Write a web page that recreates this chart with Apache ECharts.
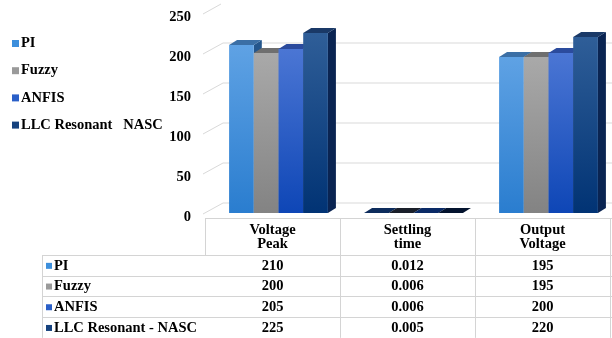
<!DOCTYPE html>
<html><head><meta charset="utf-8">
<script src="https://cdn.jsdelivr.net/npm/echarts@6/dist/echarts.min.js"></script>
<style>html,body{margin:0;padding:0;background:#fff}#c{width:612px;height:338px}</style>
</head><body><div id="c"></div>
<script>
// ---- data ----
var categories = ['Voltage Peak', 'Settling time', 'Output Voltage'];
var seriesNames = ['PI', 'Fuzzy', 'ANFIS', 'LLC Resonant - NASC'];
var piValues = [210, 0.012, 195];
var fuzzyValues = [200, 0.006, 195];
var anfisValues = [205, 0.006, 200];
var llcValues = [225, 0.005, 220];
var yTicks = [0, 50, 100, 150, 200, 250];

var seriesData = [piValues, fuzzyValues, anfisValues, llcValues];

// ---- styles ----
var FONT = '"Liberation Serif", "Times New Roman", serif';
var FS = 14.5;
var legendColors = ['#3d8fdc', '#9a9a9a', '#2a5fc8', '#16427e'];
var frontC = [['#5fa2e4', '#2a7dcf'], ['#a9a9a9', '#838383'], ['#4b76d4', '#0e46b6'], ['#2f5e98', '#013374']];
var topC = ['#3b6fa5', '#6f6f6f', '#2b4b9d', '#1a3967'];
var flatC = ['#0d2c5c', '#1a1f2a', '#0a2a66', '#03132e'];
var sideC = ['#24568c', '#5a5a5a', '#1d3a88', '#0a2452'];
var DX = 8, DY = -5, SHIFT = 6, BWR = 0.183;

function barRender(si) {
  return function (params, api) {
    var c = api.value(0), v = api.value(1);
    var p0 = api.coord([c, 0]), p1 = api.coord([c, v]);
    var band = api.size([1, 0])[0];
    var bw = band * BWR;
    var x0 = p0[0] - 2 * bw + si * bw + SHIFT, x1 = x0 + bw;
    var yb = p0[1], yt = p1[1];
    var flat = (yb - yt) < 1;
    return {
      type: 'group', children: [
        { type: 'polygon', shape: { points: [[x1, yb], [x1 + DX, yb + DY], [x1 + DX, yt + DY], [x1, yt]] },
          style: { fill: sideC[si] } },
        { type: 'rect', shape: { x: x0, y: yt, width: bw, height: Math.max(yb - yt, 0) },
          style: { fill: new echarts.graphic.LinearGradient(0, 0, 0, 1, [{ offset: 0, color: frontC[si][0] }, { offset: 1, color: frontC[si][1] }]) } },
        { type: 'polygon', shape: { points: [[x0, yt], [x0 + DX, yt + DY], [x1 + DX, yt + DY], [x1, yt]] },
          style: { fill: flat ? flatC[si] : topC[si] } }
      ]
    };
  };
}

var series = [{
  type: 'custom', name: '_grid', silent: true, z: 1,
  data: yTicks.map(function (t) { return [0, t]; }),
  encode: { x: 0, y: 1 },
  renderItem: function (params, api) {
    var cs = params.coordSys;
    var t = api.value(1);
    var y = api.coord([0, t])[1];
    var pts = t >= 250 ? [[cs.x - 2, y + 1], [cs.x + 16, y - 9]] :
      [[cs.x - 2, y + 1], [cs.x + 18, y - 10], [cs.x + cs.width + 4, y - 10]];
    return { type: 'polyline', shape: { points: pts }, style: { stroke: '#d9d9d9', lineWidth: 1, fill: null } };
  }
}];
seriesNames.forEach(function (n, i) {
  series.push({
    type: 'custom', name: n, z: 3,
    renderItem: barRender(i),
    itemStyle: { color: legendColors[i] },
    encode: { x: 0, y: 1 },
    data: seriesData[i].map(function (v, j) { return [j, v]; })
  });
});

var chart = echarts.init(document.getElementById('c'), null, { renderer: 'canvas' });
chart.setOption({
  animation: false,
  backgroundColor: '#fff',
  grid: { left: 205, right: 2, top: 13, bottom: 125 },
  legend: {
    orient: 'vertical', left: 7, top: 31, itemWidth: 7, itemHeight: 7, itemGap: 12.2, icon: 'rect',
    data: seriesNames,
    formatter: function (n) { return n.replace(' - ', '   '); },
    textStyle: { fontFamily: FONT, fontWeight: 'bold', fontSize: FS, color: '#000', padding: [0, 0, 0, -3] }
  },
  xAxis: {
    type: 'category', data: categories,
    axisLine: { show: false }, axisTick: { show: false }, axisLabel: { show: false }, splitLine: { show: false }
  },
  yAxis: {
    type: 'value', min: 0, max: 250, interval: 50,
    axisLine: { show: false }, axisTick: { show: false }, splitLine: { show: false },
    axisLabel: { fontFamily: FONT, fontWeight: 'bold', fontSize: FS, color: '#000', margin: 14, verticalAlign: 'top', lineHeight: 8 }
  },
  series: series
});

// ---- data table under the chart ----
var xs = categories.map(function (c) { return chart.convertToPixel({ xAxisIndex: 0 }, c); });
var half = (xs[1] - xs[0]) / 2;
var tableTop = 218, headBottom = 255, rowH = 20.7, tLeft = 42, colLeft = xs[0] - half;
var lineColor = '#d4d4d4';
var els = [];
function hline(x1, x2, y) { els.push({ type: 'line', shape: { x1: x1, y1: y, x2: x2, y2: y }, style: { stroke: lineColor, lineWidth: 1 }, silent: true }); }
function vline(x, y1, y2) { els.push({ type: 'line', shape: { x1: x, y1: y1, x2: x, y2: y2 }, style: { stroke: lineColor, lineWidth: 1 }, silent: true }); }
var rows = seriesNames.length;
var tBottom = headBottom + rowH * rows;
hline(colLeft, 612, tableTop + 0.5);
vline(colLeft + 0.5, tableTop, headBottom);
vline(tLeft + 0.5, headBottom, tBottom);
for (var r = 0; r <= rows; r++) hline(tLeft, 612, Math.round(headBottom + r * rowH) + 0.5);
xs.forEach(function (x) { vline(Math.round(x + half) + 0.5, tableTop, tBottom); });
categories.forEach(function (c, j) {
  els.push({ type: 'text', silent: true, style: { text: c.replace(' ', '\n'), x: xs[j], y: (tableTop + headBottom) / 2 + 1,
    align: 'center', verticalAlign: 'middle', lineHeight: 14, font: 'bold ' + FS + 'px ' + FONT, fill: '#000' } });
});
seriesNames.forEach(function (n, i) {
  var yc = headBottom + rowH * (i + 0.5) + 0.5;
  els.push({ type: 'rect', silent: true, shape: { x: 46, y: yc - 3, width: 6, height: 6 }, style: { fill: legendColors[i] } });
  els.push({ type: 'text', silent: true, style: { text: n, x: 54, y: yc, align: 'left', verticalAlign: 'middle', font: 'bold ' + FS + 'px ' + FONT, fill: '#000' } });
  seriesData[i].forEach(function (v, j) {
    els.push({ type: 'text', silent: true, style: { text: String(v), x: xs[j], y: yc, align: 'center', verticalAlign: 'middle', font: 'bold ' + FS + 'px ' + FONT, fill: '#000' } });
  });
});
chart.setOption({ graphic: { elements: els } });
</script>
</body></html>
